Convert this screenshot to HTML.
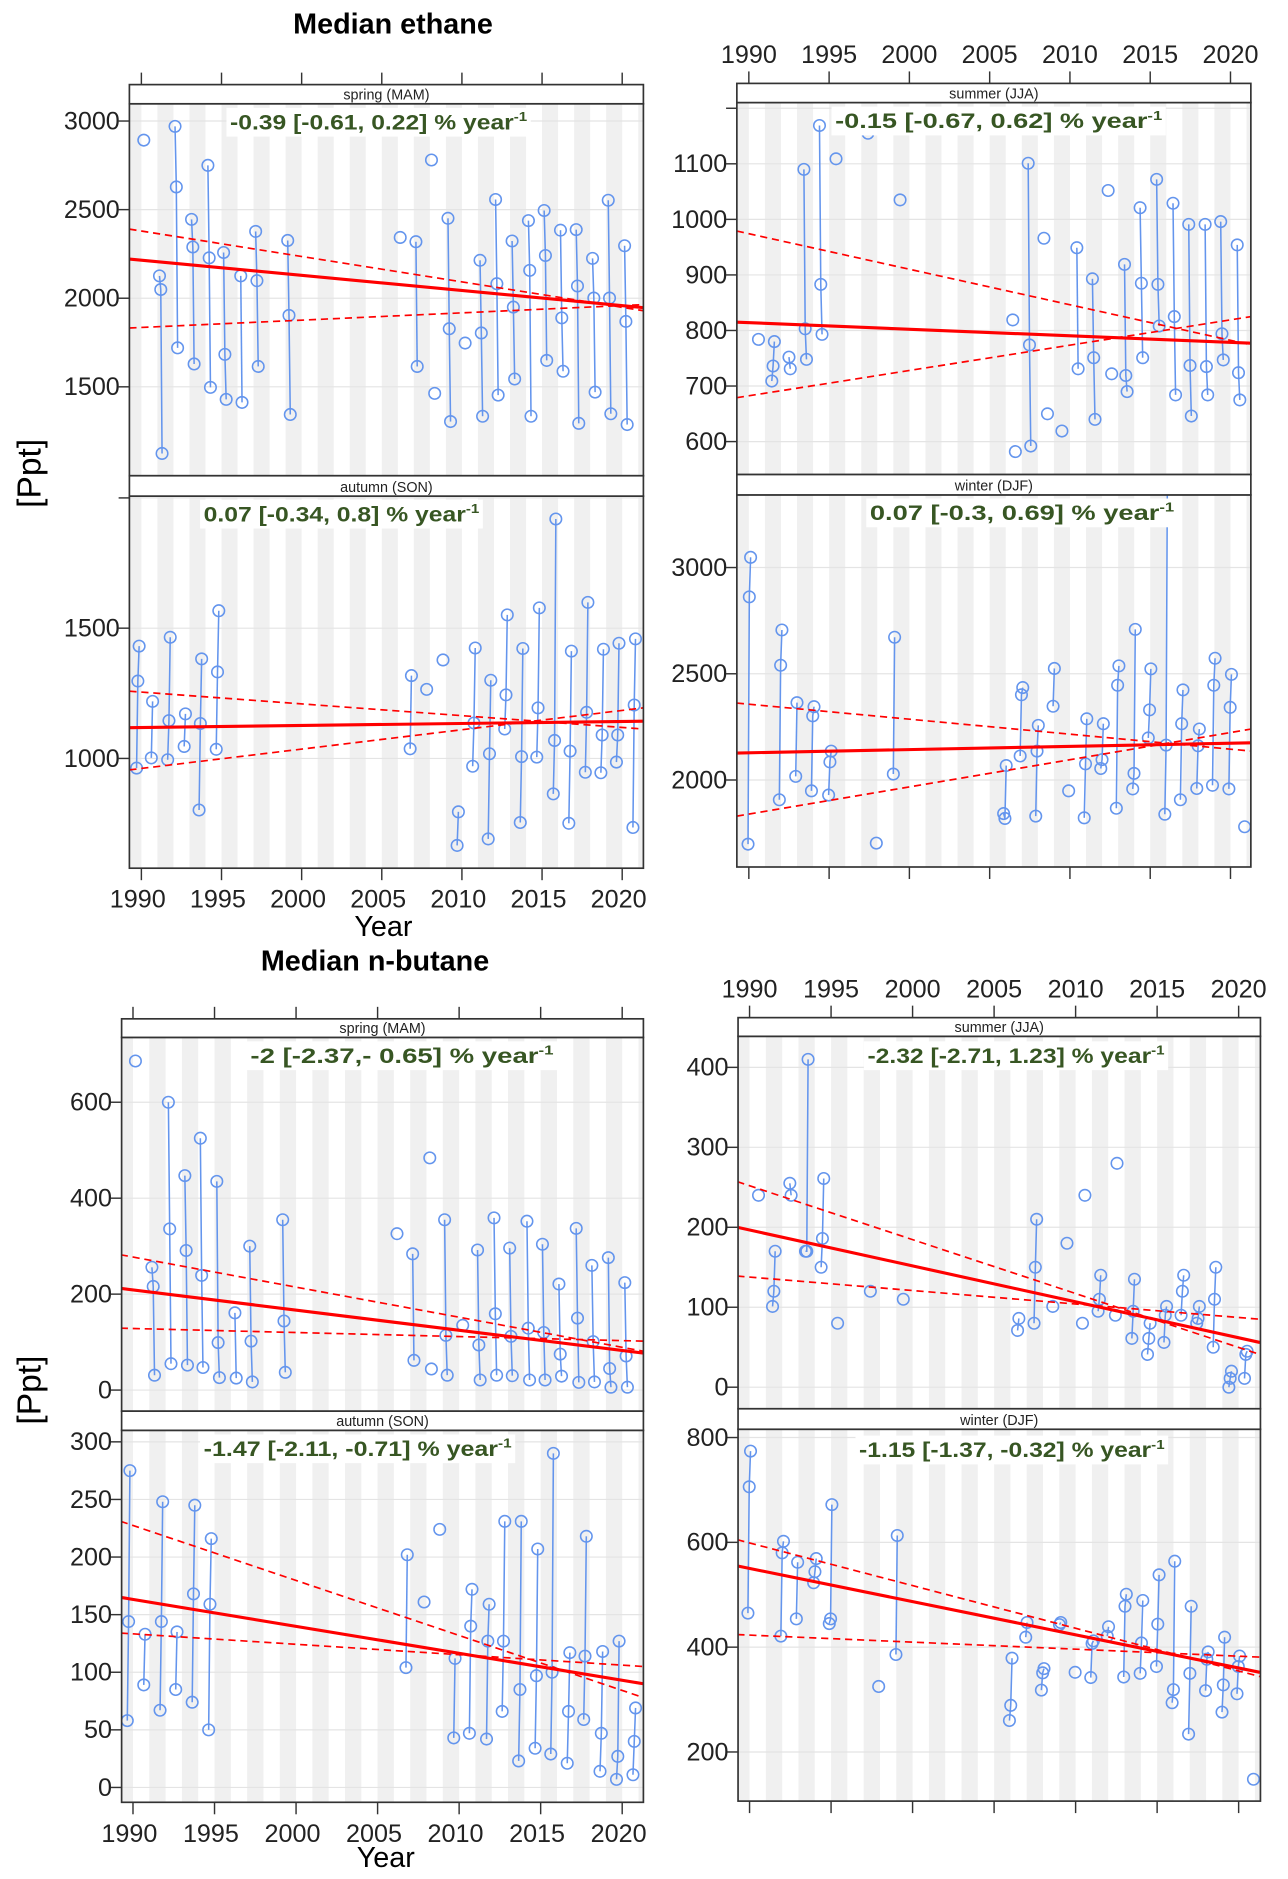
<!DOCTYPE html>
<html><head><meta charset="utf-8"><style>
html,body{margin:0;padding:0;background:#fff;}
svg{display:block;}
text{font-family:"Liberation Sans",sans-serif;}
</style></head><body>
<svg id="chart" width="1288" height="1879" viewBox="0 0 1075 1568" preserveAspectRatio="none" xmlns="http://www.w3.org/2000/svg">
<text x="328" y="28" font-size="24" font-weight="bold" text-anchor="middle">Median ethane</text>
<text x="313" y="810" font-size="24" font-weight="bold" text-anchor="middle">Median n-butane</text>
<text transform="translate(34,395) rotate(-90)" font-size="28" text-anchor="middle">[Ppt]</text>
<text transform="translate(34,1160) rotate(-90)" font-size="28" text-anchor="middle">[Ppt]</text>
<text x="320" y="781" font-size="24" text-anchor="middle">Year</text>
<text x="322" y="1558" font-size="24" text-anchor="middle">Year</text>
</svg>
<script>
// ---------- data ----------
const ethSpringYears=[1990.15,1991.13,1992.10,1993.13,1994.15,1995.13,1996.2,1997.13,1999.13,2006.15,2007.13,2008.1,2008.3,2009.13,2010.2,2011.13,2012.1,2013.13,2014.15,2015.13,2016.15,2017.13,2018.15,2019.13,2020.15];
const ethSpringVals=[[2892],[2126,2049,1124],[2970,2628,1720],[2445,2289,1629],[2750,2228,1497],[2258,1683,1429],[2126,1412],[2377,2099,1615],[2326,1903,1344],[2343],[2319,1615],[2780],[1463],[2451,1828,1304],[1747],[2214,1804,1334],[2557,2082,1453],[2323,1950,1544],[2438,2157,1334],[2495,2241,1649],[2384,1889,1588],[2387,2069,1294],[2225,2001,1470],[2553,2001,1348],[2296,1869,1287]];
const ethSpringTrend=[2221,1947], ethSpringUpper=[2390,1930], ethSpringLower=[1832,1964];

const ethSummerYears=[1990.6,1991.43,1992.5,1993.43,1994.4,1995.43,1997.42,1999.42,2006.44,2006.6,2007.4,2008.38,2008.6,2009.5,2010.43,2011.4,2012.38,2012.6,2013.4,2014.37,2015.4,2016.42,2017.4,2018.42,2019.39,2020.42];
const ethSummerVals=[[784],[709,736,780],[752,731],[1090,803,748],[1169,883,793],[1109],[1155],[1035],[819],[582],[1101,774,592],[966],[650],[619],[949,731],[893,751,640],[1052],[722],[919,719,690],[1021,885,751],[1072,883,808],[1029,825,684],[991,737,646],[991,735,684],[996,794,747],[954,724,675]];
const ethSummerTrend=[815,777], ethSummerUpper=[979,774], ethSummerLower=[679,825];

const ethAutumnYears=[1989.7,1990.62,1991.64,1992.67,1993.6,1994.67,2006.77,2007.8,2008.82,2009.7,2010.67,2011.64,2012.67,2013.64,2014.67,2015.7,2016.67,2017.7,2018.67,2019.64,2020.67];
const ethAutumnVals=[[963,1297,1431],[1002,1219],[995,1145,1465],[1046,1171],[802,1134,1382],[1035,1332,1567],[1037,1318],[1265],[1378],[666,795],[970,1136,1424],[691,1018,1300],[1113,1244,1551],[754,1007,1422],[1005,1194,1578],[864,1069,1919],[751,1028,1412],[947,1177,1599],[945,1090,1419],[986,1090,1442],[735,1205,1459]];
const ethAutumnTrend=[1118,1143], ethAutumnUpper=[1258,1113], ethAutumnLower=[956,1194];

const ethWinterYears=[1989.95,1991.9,1992.92,1993.9,1994.97,1997.94,1999.0,2005.87,2006.9,2007.87,2008.95,2009.92,2010.89,2011.92,2012.89,2013.91,2014.88,2015.91,2016.88,2017.9,2018.88,2019.9,2020.88];
const ethWinterVals=[[1698,2862,3048],[1907,2540,2706],[2017,2364],[1949,2302,2345],[1929,2085,2136],[1703],[2028,2672],[1842,1819,2068],[2113,2401,2435],[1830,2136,2257],[2347,2525],[1949],[1822,2076,2288],[2054,2096,2265],[1867,2446,2537],[1958,2031,2709],[2198,2330,2523],[1839,2164,3450],[1907,2265,2424],[1960,2161,2240],[1975,2446,2573],[1958,2342,2497],[1780]];
const ethWinterTrend=[2127,2175], ethWinterUpper=[2362,2136], ethWinterLower=[1830,2240];

const butSpringYears=[1990.15,1991.16,1992.17,1993.18,1994.13,1995.14,1996.25,1997.16,1999.18,2006.19,2007.15,2008.2,2008.3,2009.11,2010.22,2011.13,2012.14,2013.1,2014.16,2015.11,2016.12,2017.18,2018.14,2019.15,2020.16];
const butSpringVals=[[686],[256,216,31],[600,336,55],[447,291,52],[525,239,47],[435,99,26],[161,25],[300,102,17],[355,144,37],[326],[284,62],[484],[44],[355,114,31],[135],[292,94,21],[359,159,31],[296,112,30],[352,129,21],[304,120,21],[221,75,29],[337,150,16],[260,101,17],[276,45,6],[224,71,6]];
const butSpringTrend=[212,77], butSpringUpper=[282,81], butSpringLower=[129,102];

const butSummerYears=[1990.55,1991.41,1992.47,1993.43,1994.39,1995.4,1997.41,1999.43,2006.44,2007.45,2008.6,2009.47,2010.42,2010.57,2011.38,2012.44,2012.54,2013.45,2014.41,2015.42,2016.47,2017.43,2018.44,2019.4,2020.36];
const butSummerVals=[[240],[101,120,170],[255,240],[170,170,410],[150,186,261],[80],[120],[110],[71,86],[80,150,210],[101],[180],[80],[240],[95,110,140],[90],[280],[61,95,135],[41,61,80],[56,90,101],[90,120,140],[80,86,101],[50,110,150],[0,11,20],[11,41,45]];
const butSummerTrend=[200,56], butSummerUpper=[257,41], butSummerLower=[139,85];

const butAutumnYears=[1989.65,1990.66,1991.66,1992.62,1993.63,1994.64,2006.74,2007.85,2008.81,2009.67,2010.63,2011.68,2012.64,2013.65,2014.66,2015.62,2016.63,2017.64,2018.64,2019.65,2020.66];
const butAutumnVals=[[58,144,275],[89,133],[67,144,248],[85,135],[74,168,245],[50,159,216],[104,202],[161],[224],[43,112],[47,140,172],[42,127,159],[66,127,231],[23,85,231],[34,97,207],[29,100,290],[21,66,117],[59,114,218],[14,47,118],[7,27,127],[11,40,69]];
const butAutumnTrend=[165,90], butAutumnUpper=[231,78], butAutumnLower=[134,105];

const butWinterYears=[1989.9,1991.92,1992.87,1993.93,1994.89,1997.92,1998.98,2005.94,2006.94,2007.9,2009.01,2009.97,2010.93,2011.94,2012.95,2013.96,2014.96,2015.92,2016.93,2017.97,2018.98,2019.9,2020.91];
const butWinterVals=[[465,706,774],[421,580,602],[454,562],[523,544,569],[445,454,672],[325],[386,613],[260,289,379],[419,447],[318,351,359],[443,447],[352],[342,407,412],[421,439],[343,478,501],[350,408,489],[363,444,538],[294,319,564],[234,350,478],[317,377,391],[276,328,419],[311,363,383],[148]];
const butWinterTrend=[555,352], butWinterUpper=[605,344], butWinterLower=[424,381];

const trendYears=[1989.25,2021.3];
const xTickLabels=[1990,1995,2000,2005,2010,2015,2020];
const ethSpringTicks=[1500,2000,2500,3000];
const ethSummerTicks=[600,700,800,900,1000,1100,1200];
const ethAutumnTicks=[1000,1500,2000];
const ethWinterTicks=[2000,2500,3000];
const butSpringTicks=[0,200,400,600];
const butSummerTicks=[0,100,200,300,400];
const butAutumnTicks=[0,50,100,150,200,250,300];
const butWinterTicks=[200,400,600,800];

// ---------- drawing ----------
const NS='http://www.w3.org/2000/svg';
const svg=document.getElementById('chart');
function mk(tag,attrs,parent){const e=document.createElementNS(NS,tag);for(const k in attrs)e.setAttribute(k,attrs[k]);(parent||svg).appendChild(e);return e;}
let clipId=0;
function panel(c){
  const sx=y=>c.x1990+(y-1990)*(c.x2020-c.x1990)/30;
  const sy=v=>c.pA+(v-c.vA)*(c.pB-c.pA)/(c.vB-c.vA);
  const g=mk('g',{});
  
  
  const id='clip'+(clipId++);
  const cp=mk('clipPath',{id:id},g);
  mk('rect',{x:c.xl,y:c.top,width:c.xr-c.xl,height:c.bottom-c.top},cp);
  const pg=mk('g',{'clip-path':'url(#'+id+')'},g);
  for(let y=1989;y<=2021;y+=2){
    const r=mk('rect',{x:sx(y),y:c.top,width:sx(y+1)-sx(y),height:c.bottom-c.top,fill:'#f0f0f0'},pg);
    
    
  }
  c.ticks.forEach(t=>{
    const l=mk('line',{x1:c.xl,x2:c.xr,y1:sy(t),y2:sy(t),stroke:'#e4e4e4','stroke-width':1},pg);
    
    
  });
  c.years.forEach((yr,i)=>{
    const vs=c.vals[i];
    const pts=vs.map((v,j)=>[sx(yr+j*0.08),sy(v)]);
    if(pts.length>1){
      const pl=mk('polyline',{points:pts.map(p=>p.join(',')).join(' '),fill:'none',stroke:'#6495ed','stroke-width':1.3},pg);
      
      
    }
    pts.forEach(p=>{
      const ci=mk('circle',{cx:p[0],cy:p[1],r:4.8,fill:'none',stroke:'#6495ed','stroke-width':1.3},pg);
      
      
    });
  });
  [[c.upper,1.4,'6,4','trend-upper-ci'],[c.lower,1.4,'6,4','trend-lower-ci'],[c.trend,2.6,'','trend-line']].forEach(t=>{
    const l=mk('line',{x1:sx(trendYears[0]),x2:sx(trendYears[1]),y1:sy(t[0][0]),y2:sy(t[0][1]),stroke:'#ff0000','stroke-width':t[1]},pg);
    if(t[2])l.setAttribute('stroke-dasharray',t[2]);
    
    
  });
  // annotation
  const ab=mk('rect',{x:c.ax0-3,y:c.ay-18,width:c.ax1-c.ax0+6,height:24,fill:'#fff'},g);
  
  
  const at=mk('text',{x:c.ax0,y:c.ay,'font-size':18,'font-weight':'bold',fill:'#375623',textLength:c.ax1-c.ax0,lengthAdjust:'spacingAndGlyphs'},g);
  
  
  at.appendChild(document.createTextNode(c.label+' % year'));
  const sup=mk('tspan',{'font-size':11,dy:-7},at);sup.textContent='-1';
  // frame
  const fr=mk('rect',{x:c.xl,y:c.top,width:c.xr-c.xl,height:c.bottom-c.top,fill:'none',stroke:'#333','stroke-width':1.4},g);
  
  
  const st=mk('rect',{x:c.xl,y:c.stripTop,width:c.xr-c.xl,height:c.top-c.stripTop,fill:'#fff',stroke:'#333','stroke-width':1.4},g);
  
  
  const stt=mk('text',{x:(c.xl+c.xr)/2,y:c.top-3.5,'font-size':12,'text-anchor':'middle',fill:'#222'},g);
  
  
  stt.textContent=c.strip;
  // y ticks
  c.ticks.forEach(t=>{
    const yy=sy(t);
    if(yy<c.top-1||yy>c.bottom+1)return;
    const tl=mk('line',{x1:c.xl-9,x2:c.xl,y1:yy,y2:yy,stroke:'#333','stroke-width':1.2},g);
    
    
    if(c.hideTop && t===c.ticks[c.ticks.length-1])return;
    const tx=mk('text',{x:c.xl-8,y:yy+7,'font-size':21,'text-anchor':'end',fill:'#222'},g);
    
    
    tx.textContent=t;
  });
  // x ticks
  xTickLabels.forEach(t=>{
    const xx=sx(t);
    if(c.xTop){
      const tl=mk('line',{x1:xx,x2:xx,y1:c.stripTop-10,y2:c.stripTop,stroke:'#333','stroke-width':1.2},g);
      
      
      if(c.xTopLabels){
        const tx=mk('text',{x:xx,y:c.stripTop-17,'font-size':21,'text-anchor':'middle',fill:'#222'},g);
        
        
        tx.textContent=t;
      }
    }
    if(c.xBottom){
      const tl=mk('line',{x1:xx,x2:xx,y1:c.bottom,y2:c.bottom+10,stroke:'#333','stroke-width':1.2},g);
      
      
      if(c.xBottomLabels){
        const tx=mk('text',{x:xx-3,y:c.bottom+33,'font-size':21,'text-anchor':'middle',fill:'#222'},g);
        
        
        tx.textContent=t;
      }
    }
  });
}
const EL={xl:108,xr:537,x1990:118,x2020:519.3}, ER={xl:615,xr:1044,x1990:625,x2020:1027};
const BL={xl:101.5,xr:537,x1990:111,x2020:519.3}, BR={xl:616,xr:1052,x1990:625.6,x2020:1033.8};
panel(Object.assign({},EL,{name:'ethane-spring',strip:'spring (MAM)',stripTop:70.6,top:86.6,bottom:397,vA:3000,pA:101,vB:1500,pB:322.8,ticks:ethSpringTicks,years:ethSpringYears,vals:ethSpringVals,trend:ethSpringTrend,upper:ethSpringUpper,lower:ethSpringLower,label:'-0.39 [-0.61, 0.22]',ax0:192,ax1:440,ay:108,xTop:true}));
panel(Object.assign({},ER,{name:'ethane-summer',strip:'summer (JJA)',stripTop:69.6,top:85.6,bottom:396,vA:1100,pA:136.7,vB:600,pB:368.5,ticks:ethSummerTicks,hideTop:true,years:ethSummerYears,vals:ethSummerVals,trend:ethSummerTrend,upper:ethSummerUpper,lower:ethSummerLower,label:'-0.15 [-0.67, 0.62]',ax0:697,ax1:970,ay:107,xTop:true,xTopLabels:true}));
panel(Object.assign({},EL,{name:'ethane-autumn',strip:'autumn (SON)',stripTop:397,top:414,bottom:724.5,vA:1500,pA:524.2,vB:1000,pB:632.9,ticks:ethAutumnTicks,hideTop:true,years:ethAutumnYears,vals:ethAutumnVals,trend:ethAutumnTrend,upper:ethAutumnUpper,lower:ethAutumnLower,label:'0.07 [-0.34, 0.8]',ax0:170,ax1:400,ay:435,xBottom:true,xBottomLabels:true}));
panel(Object.assign({},ER,{name:'ethane-winter',strip:'winter (DJF)',stripTop:396,top:413,bottom:723.5,vA:3000,pA:473.6,vB:2000,pB:650.9,ticks:ethWinterTicks,years:ethWinterYears,vals:ethWinterVals,trend:ethWinterTrend,upper:ethWinterUpper,lower:ethWinterLower,label:'0.07 [-0.3, 0.69]',ax0:726,ax1:980,ay:434,xBottom:true}));
panel(Object.assign({},BL,{name:'butane-spring',strip:'spring (MAM)',stripTop:850.2,top:865.7,bottom:1177.6,vA:600,pA:919.8,vB:0,pB:1160,ticks:butSpringTicks,years:butSpringYears,vals:butSpringVals,trend:butSpringTrend,upper:butSpringUpper,lower:butSpringLower,label:'-2 [-2.37,- 0.65]',ax0:209,ax1:462,ay:887,xTop:true}));
panel(Object.assign({},BR,{name:'butane-summer',strip:'summer (JJA)',stripTop:849.2,top:864.8,bottom:1175.6,vA:400,pA:890.7,vB:0,pB:1157.6,ticks:butSummerTicks,years:butSummerYears,vals:butSummerVals,trend:butSummerTrend,upper:butSummerUpper,lower:butSummerLower,label:'-2.32 [-2.71, 1.23]',ax0:724,ax1:972,ay:887,xTop:true,xTopLabels:true}));
panel(Object.assign({},BL,{name:'butane-autumn',strip:'autumn (SON)',stripTop:1177.6,top:1193.6,bottom:1504,vA:300,pA:1203.2,vB:0,pB:1491.6,ticks:butAutumnTicks,years:butAutumnYears,vals:butAutumnVals,trend:butAutumnTrend,upper:butAutumnUpper,lower:butAutumnLower,label:'-1.47 [-2.11, -0.71]',ax0:170,ax1:427,ay:1215,xBottom:true,xBottomLabels:true}));
panel(Object.assign({},BR,{name:'butane-winter',strip:'winter (DJF)',stripTop:1175.6,top:1192.7,bottom:1503,vA:800,pA:1199.6,vB:200,pB:1462,ticks:butWinterTicks,years:butWinterYears,vals:butWinterVals,trend:butWinterTrend,upper:butWinterUpper,lower:butWinterLower,label:'-1.15 [-1.37, -0.32]',ax0:717,ax1:972,ay:1216,xBottom:true}));
</script>
</body></html>
